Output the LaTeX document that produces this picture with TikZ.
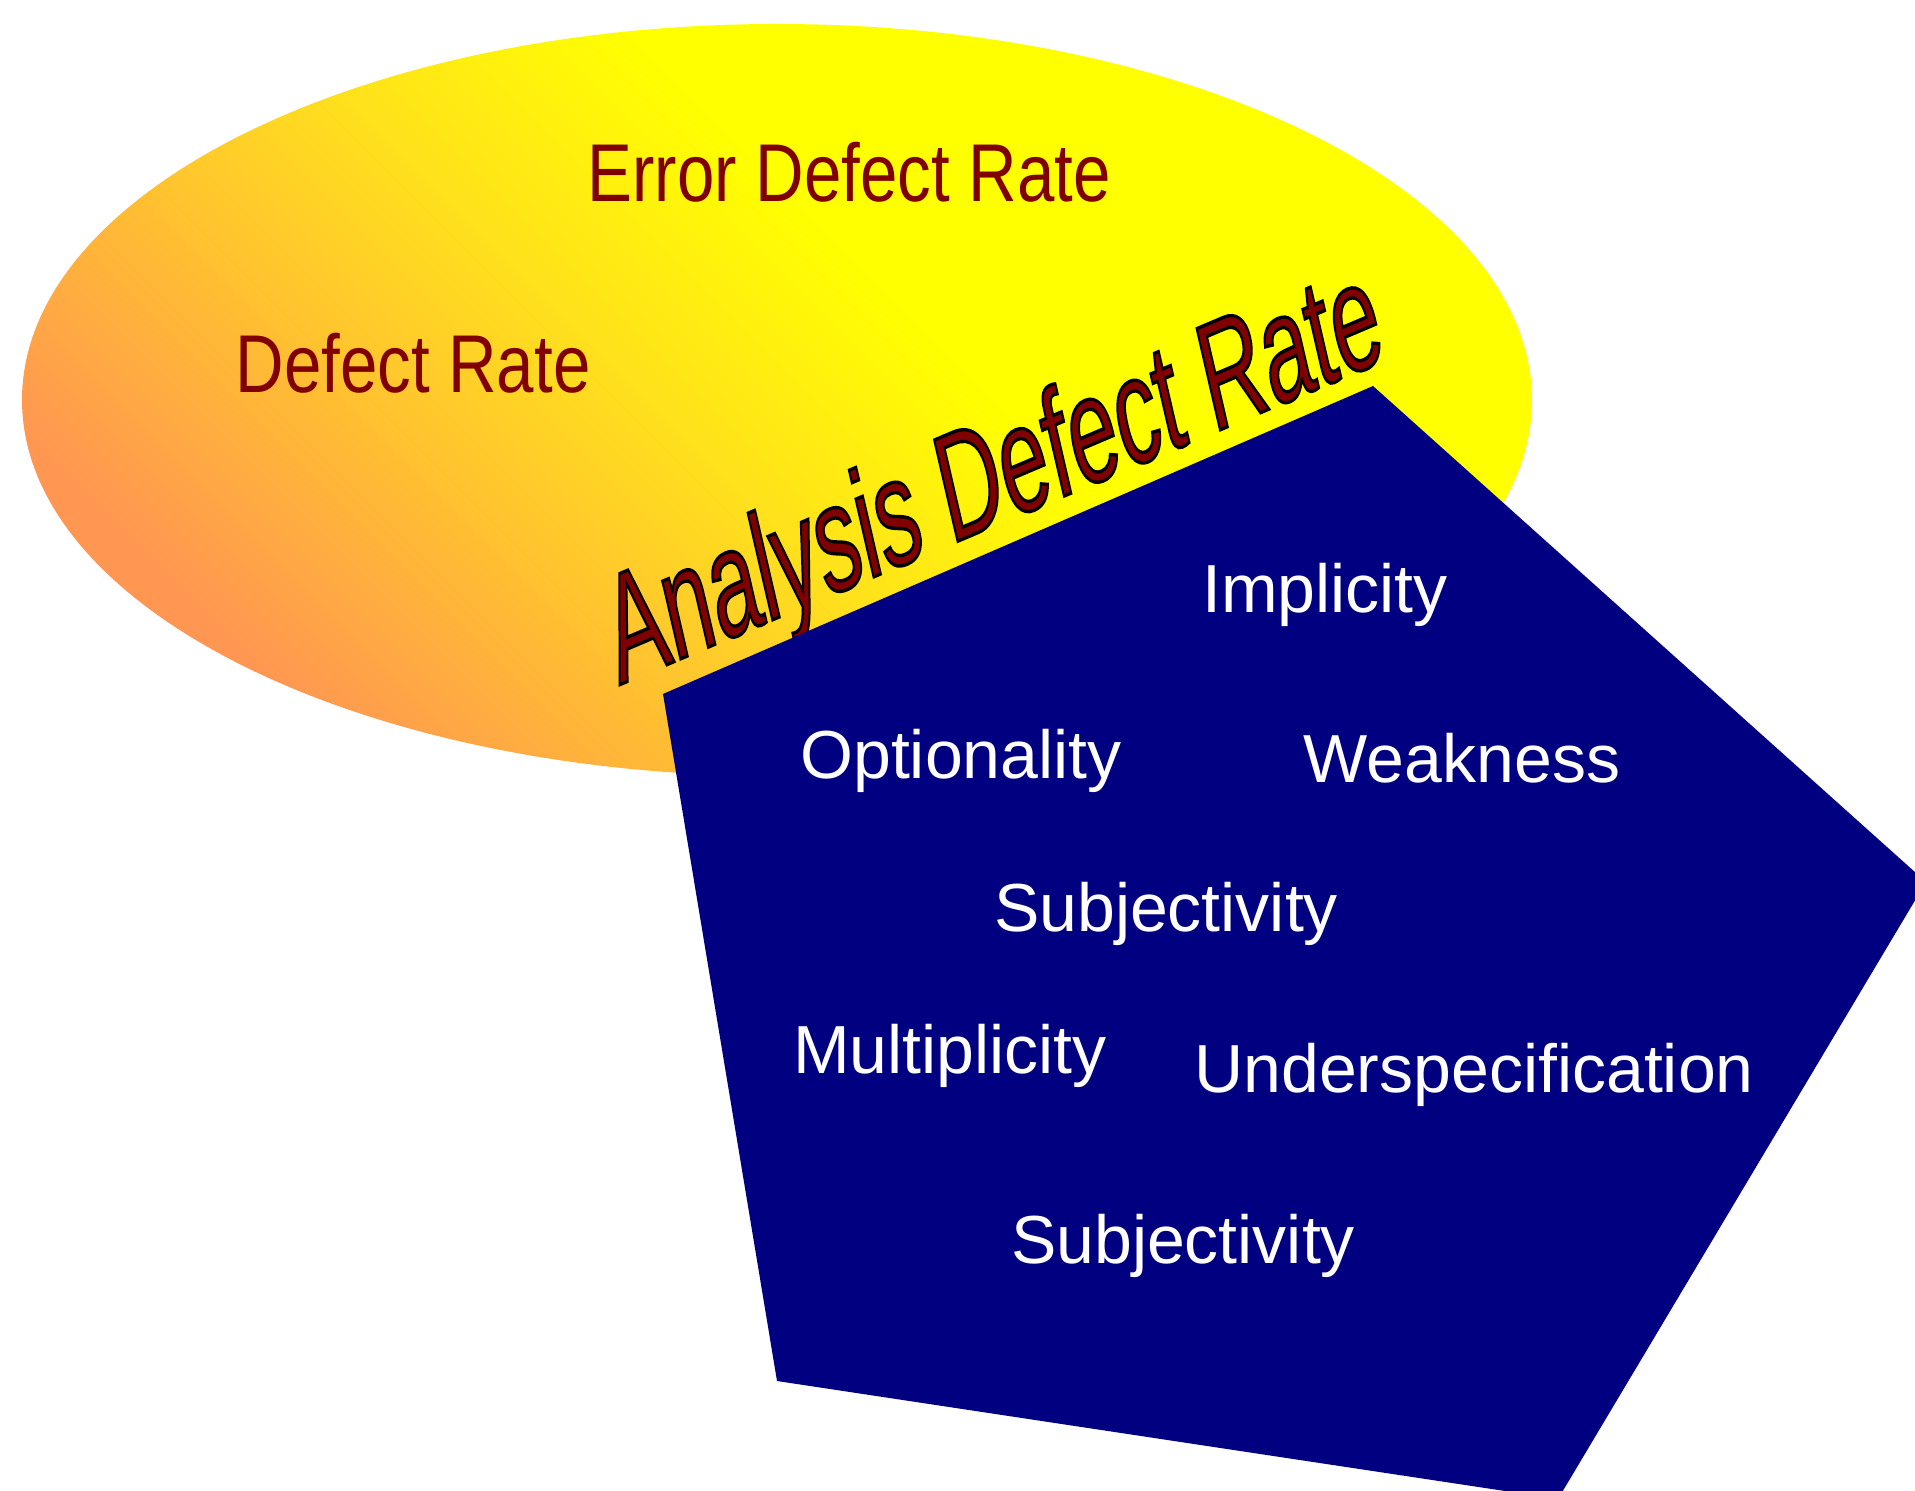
\documentclass[tikz,border=0pt]{standalone}
\usepackage{fontspec}
\setmainfont{Liberation Sans}
\newfontfamily\narrowfont[FakeStretch=0.82]{Liberation Sans}
\definecolor{darkred}{RGB}{128,0,0}
\definecolor{navyfill}{RGB}{0,0,128}
\definecolor{gA}{RGB}{255,150,82}
\definecolor{gB}{RGB}{255,190,50}
\definecolor{gC}{RGB}{255,225,28}
\definecolor{gY}{RGB}{255,255,0}
\pgfdeclareverticalshading{ellgrad}{100bp}{color(0bp)=(gA); color(25bp)=(gA); color(36bp)=(gB); color(46bp)=(gC); color(57bp)=(gY); color(100bp)=(gY)}
\newcommand{\outlinedtext}[1]{\special{pdf:literal direct 0 0 0 RG 2 Tr 1.0 w}#1\special{pdf:literal direct 0 Tr}}
\begin{document}
\begin{tikzpicture}[x=0.5pt,y=-0.5pt,
  redlabel/.style={text=darkred, font=\narrowfont\fontsize{41pt}{48pt}\selectfont, inner sep=0pt, anchor=base},
  whitelabel/.style={text=white, font=\fontsize{34pt}{40pt}\selectfont, inner sep=0pt, anchor=base},
  adrtext/.style={transform shape, inner sep=0pt, anchor=base west, font=\fontsize{45pt}{54pt}\selectfont}]
\useasboundingbox (0,0) rectangle (1915,1491);
\clip (0,0) rectangle (1915,1491);
% gradient ellipse
\path[shading=ellgrad, shading angle=-45] (777,400) ellipse [x radius=755, y radius=376];
% labels in the ellipse
\node[redlabel] (edr) at (849,202) {Error Defect Rate};
\node[redlabel] (dr) at (413,393) {Defect Rate};
% slanted title with outline
\begin{scope}[shift={(619,685)}, cm={0.9205,0.3907,-0.377,1.634,(0,0)}]
  \node[adrtext, text=darkred] (adr) at (0,0) {\outlinedtext{Analysis Defect Rate}};
\end{scope}
% pentagon
\fill[navyfill] (663,694) -- (1373,386) -- (1926,882) -- (1558,1499) -- (777,1381) -- cycle;
% white labels
\node[whitelabel] (impl) at (1325,612) {Implicity};
\node[whitelabel] (opt) at (961,778) {Optionality};
\node[whitelabel] (weak) at (1462,782) {Weakness};
\node[whitelabel] (subj1) at (1166,931) {Subjectivity};
\node[whitelabel] (mult) at (950,1073) {Multiplicity};
\node[whitelabel] (under) at (1474,1092) {Underspecification};
\node[whitelabel] (subj2) at (1183,1263) {Subjectivity};
\end{tikzpicture}
\end{document}
